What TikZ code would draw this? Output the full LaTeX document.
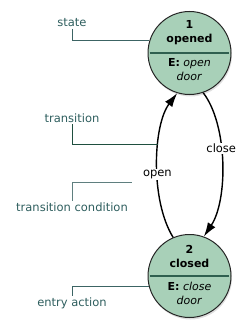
\documentclass[tikz,border=0pt]{standalone}
\usepackage{fontspec}
\setmainfont{DejaVu Sans}
\usepackage{xcolor}
\usetikzlibrary{arrows.meta,positioning,shadows}
\definecolor{stategreen}{HTML}{A8D0B8}
\definecolor{dividergreen}{HTML}{2F5F4F}
\definecolor{notetext}{HTML}{2E5E5E}
\definecolor{notedark}{HTML}{1F4F3F}
\definecolor{notegray}{HTML}{5F7F7F}
\definecolor{noteteal}{HTML}{3C6464}

\begin{document}
\begin{tikzpicture}[
    x=1pt, y=-1pt,
    state/.style={circle, draw=black!85, fill=stategreen, line width=1pt,
                  minimum size=83pt, inner sep=0pt,
                  drop shadow={opacity=0.25, shadow xshift=1pt, shadow yshift=-2pt}},
    statetext/.style={align=center, inner sep=1pt, font=\fontsize{11}{14}\selectfont},
    divider/.style={draw=dividergreen, line width=1.2pt, shorten <=2pt, shorten >=3pt},
    trans/.style={-{Latex[length=14pt, width=9pt]}, line width=1.4pt, black},
    cond/.style={fill=white, inner sep=1pt, font=\fontsize{11.5}{13}\selectfont},
    note/.style={text=notetext, inner sep=1.5pt, font=\fontsize{11.5}{13}\selectfont},
    noteline/.style={draw=#1, line width=1pt},
]
    \useasboundingbox (0,0) rectangle (250,334);

    % States
    \node[state] (opened) at (189.5,53) {};
    \draw[divider] (opened.west) -- (opened.east);
    \node[statetext, above=7pt of opened.center] (openedname) {\textbf{1}\\\textbf{opened}};
    \node[statetext, below=4.5pt of opened.center] (openedentry) {\textbf{E:} \textit{open}\\\textit{door}};

    \node[state] (closed) at (189.5,276) {};
    \draw[divider] (closed.west) -- (closed.east);
    \node[statetext, above=7pt of closed.center] (closedname) {\textbf{2}\\\textbf{closed}};
    \node[statetext, below=4.5pt of closed.center] (closedentry) {\textbf{E:} \textit{close}\\\textit{door}};

    % Transitions
    \draw[trans] (closed.113) .. controls (150,200) and (153,125) .. (opened.-107)
        node[cond, pos=0.43] (openlbl) {open};
    \draw[trans] (opened.-71) .. controls (228,125) and (228,200) .. (closed.70)
        node[cond, pos=0.41] (closelbl) {close};

    % Notes
    \node[note] (statenote) at (72,23) {state};
    \node[note] (transnote) at (72,118) {transition};
    \node[note] (condnote) at (72,207) {transition condition};
    \node[note] (entrynote) at (72,303) {entry action};

    \coordinate (transpt) at (158,144);
    \coordinate (condpt) at (132,182);

    \draw[noteline=noteteal] (statenote.south) |- (opened.163);
    \draw[noteline=notedark] (transnote.south) |- (transpt);
    \draw[noteline=notegray] (condnote.north) |- (condpt);
    \draw[noteline=noteteal] (entrynote.north) |- (closed.194);
\end{tikzpicture}
\end{document}
